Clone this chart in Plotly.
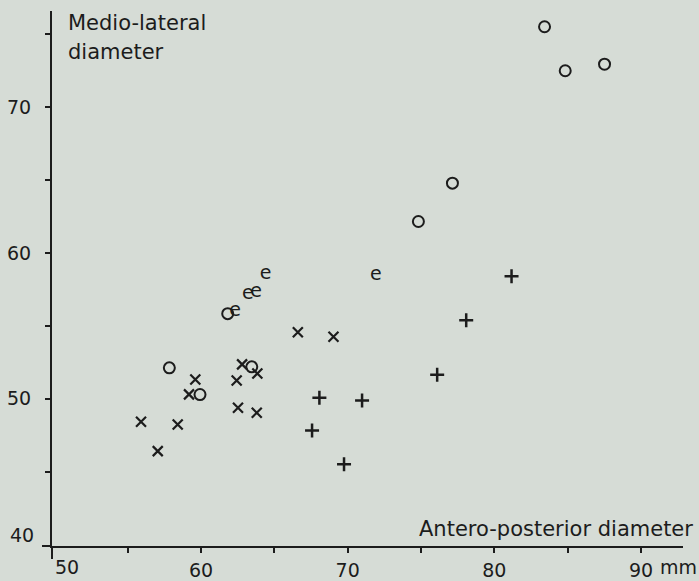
import plotly.graph_objects as go

# Data
circle_x = [83.42, 84.83, 87.51, 77.14, 74.82, 57.84, 59.93, 63.46, 61.82]
circle_y = [75.52, 72.50, 72.95, 64.79, 62.16, 52.12, 50.29, 52.19, 55.84]

cross_x = [66.60, 69.03, 59.61, 62.43, 62.52, 63.80, 58.41, 57.05, 55.91, 59.18, 62.80, 63.84]
cross_y = [54.56, 54.25, 51.32, 51.25, 49.38, 49.04, 48.24, 46.41, 48.42, 50.30, 52.36, 51.73]

plus_x = [68.07, 70.98, 67.57, 69.75, 81.17, 76.10, 78.08]
plus_y = [50.07, 49.88, 47.83, 45.50, 58.40, 51.64, 55.38]

e_x = [62.32, 63.19, 63.75, 64.41, 71.92]
e_y = [55.98, 57.14, 57.33, 58.51, 58.47]

x_tickvals = [55, 60, 65, 70, 75, 80, 85, 90]
x_ticktext = ["", "60", "", "70", "", "80", "", "90"]
y_tickvals = [45, 50, 55, 60, 65, 70, 75]
y_ticktext = ["", "50", "", "60", "", "70", ""]

INK = "#1c1c1c"
BG = "#d6dcd6"
FONT = "DejaVu Sans"

fig = go.Figure()
fig.add_trace(go.Scatter(x=circle_x, y=circle_y, mode="markers",
                         marker=dict(symbol="circle-open", size=11, color=INK,
                                     line=dict(width=2, color=INK))))
fig.add_trace(go.Scatter(x=cross_x, y=cross_y, mode="markers",
                         marker=dict(symbol="x-thin-open", size=10, color=INK,
                                     line=dict(width=2.2, color=INK))))
fig.add_trace(go.Scatter(x=plus_x, y=plus_y, mode="markers",
                         marker=dict(symbol="cross-thin-open", size=10, color=INK,
                                     line=dict(width=2.5, color=INK))))
fig.add_trace(go.Scatter(x=e_x, y=e_y, mode="text", text=["e"] * len(e_x),
                         textposition="middle center",
                         textfont=dict(family=FONT, size=19, color=INK)))

fig.update_layout(
    width=699, height=581,
    margin=dict(l=52, r=16, t=11, b=35, autoexpand=False),
    paper_bgcolor=BG, plot_bgcolor=BG,
    showlegend=False,
    font=dict(family=FONT, size=19, color=INK),
    xaxis=dict(range=[49.84, 92.86], showgrid=False, zeroline=False,
               automargin=False,
               showline=True, linecolor=INK, linewidth=2,
               ticks="outside", ticklen=5, tickwidth=2, tickcolor=INK,
               tickvals=x_tickvals, ticktext=x_ticktext,
               ticklabelstandoff=1,
               tickfont=dict(family=FONT, size=19, color=INK)),
    yaxis=dict(range=[39.9, 76.6], showgrid=False, zeroline=False,
               automargin=False,
               showline=True, linecolor=INK, linewidth=2,
               ticks="outside", ticklen=5, tickwidth=2, tickcolor=INK,
               tickvals=y_tickvals, ticktext=y_ticktext,
               ticklabelstandoff=10,
               tickfont=dict(family=FONT, size=19, color=INK)),
)

# axis line extensions past the crossing point
fig.add_shape(type="line", xref="paper", yref="paper",
              x0=-10 / 631, x1=0, y0=0, y1=0, line=dict(color=INK, width=2))
fig.add_shape(type="line", xref="paper", yref="paper",
              x0=0, x1=0, y0=-13 / 535, y1=0, line=dict(color=INK, width=2))

# offset tick labels and axis titles
fig.add_annotation(x=50, y=0, xref="x", yref="paper", text="50", showarrow=False,
                   xanchor="center", yanchor="top", xshift=13, yshift=-8,
                   font=dict(family=FONT, size=19, color=INK))
fig.add_annotation(x=0, y=40, xref="paper", yref="y", text="40", showarrow=False,
                   xanchor="right", yanchor="middle", xshift=-16, yshift=10,
                   font=dict(family=FONT, size=19, color=INK))
fig.add_annotation(x=90, y=0, xref="x", yref="paper", text="mm", showarrow=False,
                   xanchor="left", yanchor="top", xshift=17, yshift=-8,
                   font=dict(family=FONT, size=19, color=INK))
fig.add_annotation(x=1, y=0, xref="paper", yref="paper",
                   text="Antero-posterior diameter", showarrow=False,
                   xanchor="right", yanchor="bottom", xshift=12, yshift=3,
                   font=dict(family=FONT, size=21, color=INK))
fig.add_annotation(x=0, y=1, xref="paper", yref="paper",
                   text="Medio-lateral", showarrow=False,
                   xanchor="left", yanchor="top", xshift=14, yshift=2,
                   font=dict(family=FONT, size=21, color=INK))
fig.add_annotation(x=0, y=1, xref="paper", yref="paper",
                   text="diameter", showarrow=False,
                   xanchor="left", yanchor="top", xshift=14, yshift=-27,
                   font=dict(family=FONT, size=21, color=INK))

fig.write_html(
    "out.html",
    config={"displayModeBar": False},
    post_script="document.body.style.margin='0';document.body.style.background='%s';" % BG,
)
